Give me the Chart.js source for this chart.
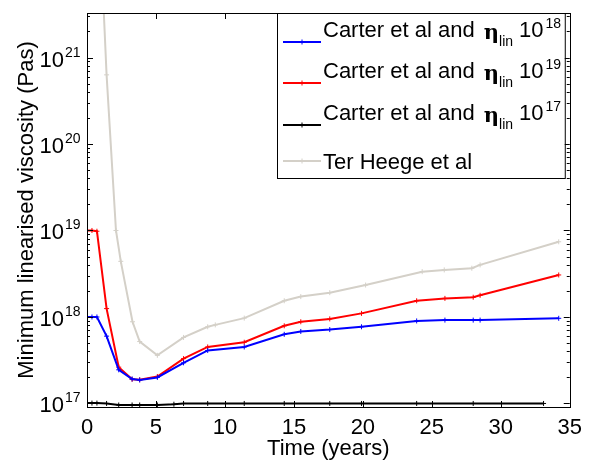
<!DOCTYPE html>
<html>
<head>
<meta charset="utf-8">
<script src="https://cdn.jsdelivr.net/npm/chart.js@4.4.0/dist/chart.umd.min.js"></script>
<style>
  html, body { margin: 0; padding: 0; background: #fff; }
  #wrap { width: 590px; height: 460px; }
</style>
</head>
<body>
<div id="wrap"><canvas id="visc" width="590" height="460"></canvas></div>
<script>
// time (years) and minimum linearised viscosity (Pa s)
const tCarter = [0, 0.36, 0.72, 1.42, 2.3, 3.27, 3.82, 5.1, 7.0, 8.75, 11.4, 14.3, 15.5, 17.6, 19.9, 23.9, 25.95, 28.0, 28.5, 34.2];
const etaLin18 = [1e18, 1e18, 1e18, 6.0e17, 2.45e17, 1.92e17, 1.87e17, 2.0e17, 2.95e17, 4.1e17, 4.5e17, 6.3e17, 6.8e17, 7.15e17, 7.7e17, 9.0e17, 9.2e17, 9.2e17, 9.2e17, 9.65e17];
const etaLin19 = [1e19, 1e19, 0.98e19, 1.25e18, 2.63e17, 1.9e17, 1.88e17, 2.05e17, 3.3e17, 4.5e17, 5.1e17, 7.9e17, 8.8e17, 9.5e17, 1.1e18, 1.54e18, 1.64e18, 1.69e18, 1.78e18, 3.06e18];

const tCarter17 = [0, 0.36, 0.72, 1.42, 2.3, 3.27, 3.82, 5.1, 6.3, 7.0, 8.75, 11.4, 14.3, 17.6, 19.9, 23.9, 28.0, 33.1];
const etaLin17 = [1.01e17, 1.01e17, 1.01e17, 1.0e17, 0.96e17, 0.96e17, 0.96e17, 0.96e17, 0.98e17, 1.0e17, 1.0e17, 1.0e17, 1.0e17, 1.0e17, 1.0e17, 1.0e17, 1.0e17, 1.0e17];

const tTerHeege = [0.72, 1.42, 2.1, 2.45, 3.3, 3.82, 5.1, 7.0, 8.75, 9.3, 11.4, 14.3, 15.5, 17.6, 20.2, 24.3, 25.9, 27.9, 28.5, 34.2];
const etaTerHeege = [2e23, 6.3e20, 1e19, 4.4e18, 8.8e17, 5.2e17, 3.6e17, 5.8e17, 7.7e17, 8.1e17, 9.7e17, 1.54e18, 1.72e18, 1.91e18, 2.34e18, 3.34e18, 3.5e18, 3.66e18, 4.0e18, 7.4e18];

const xTicks = [0, 5, 10, 15, 20, 25, 30, 35];
const yDecades = [17, 18, 19, 20, 21];
const legendExp = ['18', '19', '17'];

const SANS = "'Liberation Sans', Arial, Helvetica, sans-serif";
const SERIF = "'DejaVu Serif', 'Liberation Serif', serif";

function pts(xs, ys) {
  return xs.map((x, i) => ({x: x, y: ys[i]}));
}

function series(label, xs, ys, color) {
  return {
    label: label,
    data: pts(xs, ys),
    borderColor: color,
    backgroundColor: color,
    borderWidth: 2,
    pointStyle: 'cross',
    pointRadius: 2.5,
    pointBorderWidth: 1,
    pointBorderColor: color,
    tension: 0,
    fill: false
  };
}

// axis box, inward ticks, log tick labels and the legend
const framePlugin = {
  id: 'frame',
  afterDraw(chart) {
    const ctx = chart.ctx;
    const a = chart.chartArea;
    const xs = chart.scales.x, ys = chart.scales.y;
    ctx.save();
    ctx.strokeStyle = '#000';
    ctx.lineWidth = 1;
    ctx.strokeRect(Math.round(a.left) + 0.5, Math.round(a.top) + 0.5, Math.round(a.right - a.left), Math.round(a.bottom - a.top));

    ctx.beginPath();
    xTicks.forEach(v => {
      const px = Math.round(xs.getPixelForValue(v)) + 0.5;
      ctx.moveTo(px, a.bottom); ctx.lineTo(px, a.bottom - 6);
      ctx.moveTo(px, a.top); ctx.lineTo(px, a.top + 6);
    });
    for (let e = 16; e <= 21; e++) {
      for (let m = 1; m <= 9; m++) {
        const v = m * Math.pow(10, e);
        if (v < ys.min || v > ys.max) continue;
        const py = Math.round(ys.getPixelForValue(v)) + 0.5;
        const len = m === 1 ? 6 : 3;
        ctx.moveTo(a.left, py); ctx.lineTo(a.left + len, py);
        ctx.moveTo(a.right, py); ctx.lineTo(a.right - len, py);
      }
    }
    ctx.stroke();

    // y tick labels 10^n
    ctx.fillStyle = '#000';
    yDecades.forEach(e => {
      const py = ys.getPixelForValue(Math.pow(10, e));
      ctx.font = '22px ' + SANS;
      ctx.textAlign = 'right';
      ctx.textBaseline = 'alphabetic';
      ctx.fillText('10', a.left - 23, py + 9);
      ctx.font = '14px ' + SANS;
      ctx.textAlign = 'left';
      ctx.fillText(String(e), a.left - 22, py - 1);
    });

    // legend
    const bx = 277, by = a.top, bw = a.right - 5 - 277, bh = 165;
    ctx.fillStyle = '#fff';
    ctx.fillRect(bx, by, bw, bh);
    ctx.strokeStyle = '#000';
    ctx.strokeRect(bx + 0.5, by + 0.5, bw, bh);

    const rows = [
      {ds: 0, base: 37, line: 42},
      {ds: 1, base: 78, line: 83},
      {ds: 2, base: 120, line: 125},
      {ds: 3, base: 169, line: 161}
    ];
    rows.forEach((r, i) => {
      const ds = chart.data.datasets[r.ds];
      ctx.strokeStyle = ds.borderColor;
      ctx.lineWidth = 2;
      ctx.beginPath();
      ctx.moveTo(283, r.line); ctx.lineTo(321, r.line);
      ctx.stroke();
      ctx.lineWidth = 1;
      ctx.beginPath();
      ctx.moveTo(302, r.line - 2.5); ctx.lineTo(302, r.line + 2.5);
      ctx.moveTo(299.5, r.line); ctx.lineTo(304.5, r.line);
      ctx.stroke();

      ctx.fillStyle = '#000';
      ctx.textAlign = 'left';
      ctx.textBaseline = 'alphabetic';
      let x = 323;
      ctx.font = '22px ' + SANS;
      if (i < 3) {
        const head = 'Carter et al and ';
        ctx.fillText(head, x, r.base);
        x += ctx.measureText(head).width + 3;
        ctx.font = 'bold 21px ' + SERIF;
        ctx.fillText('\u03b7', x, r.base + 2);
        x += ctx.measureText('\u03b7').width;
        ctx.font = '14px ' + SANS;
        ctx.fillText('lin', x, r.base + 9);
        x += ctx.measureText('lin').width + 6;
        ctx.font = '22px ' + SANS;
        ctx.fillText('10', x, r.base);
        x += ctx.measureText('10').width + 2;
        ctx.font = '14px ' + SANS;
        ctx.fillText(legendExp[i], x, r.base - 9);
      } else {
        ctx.fillText(ds.label, x, r.base);
      }
    });
    ctx.restore();
  }
};

const chart = new Chart(document.getElementById('visc'), {
  type: 'line',
  data: {
    datasets: [
      series('Carter et al and \u03b7lin 10^18', tCarter, etaLin18, '#0000ff'),
      series('Carter et al and \u03b7lin 10^19', tCarter, etaLin19, '#ff0000'),
      series('Carter et al and \u03b7lin 10^17', tCarter17, etaLin17, '#000000'),
      series('Ter Heege et al', tTerHeege, etaTerHeege, '#d4d0c8')
    ]
  },
  options: {
    responsive: false,
    animation: false,
    parsing: true,
    layout: { padding: { top: 13, right: 18, left: 0, bottom: 0 } },
    plugins: {
      legend: { display: false },
      tooltip: { enabled: false }
    },
    scales: {
      x: {
        type: 'linear',
        min: 0,
        max: 35,
        grid: { display: false, drawTicks: false },
        border: { display: false },
        ticks: {
          stepSize: 5,
          padding: 8,
          color: '#000',
          font: { family: SANS, size: 22 },
          maxRotation: 0
        },
        title: {
          display: true,
          text: 'Time (years)',
          color: '#000',
          font: { family: SANS, size: 22 },
          padding: { top: 0, bottom: -2 }
        },
        afterFit(scale) { scale.height = 53; }
      },
      y: {
        type: 'logarithmic',
        min: 9.1e16,
        max: 3.27e21,
        grid: { display: false, drawTicks: false },
        border: { display: false },
        ticks: { display: false },
        title: {
          display: true,
          text: 'Minimum linearised viscosity (Pas)',
          color: '#000',
          font: { family: SANS, size: 22 },
          padding: { top: 14, bottom: 0 }
        },
        afterFit(scale) { scale.width = 87; }
      }
    }
  },
  plugins: [framePlugin]
});
</script>
</body>
</html>
